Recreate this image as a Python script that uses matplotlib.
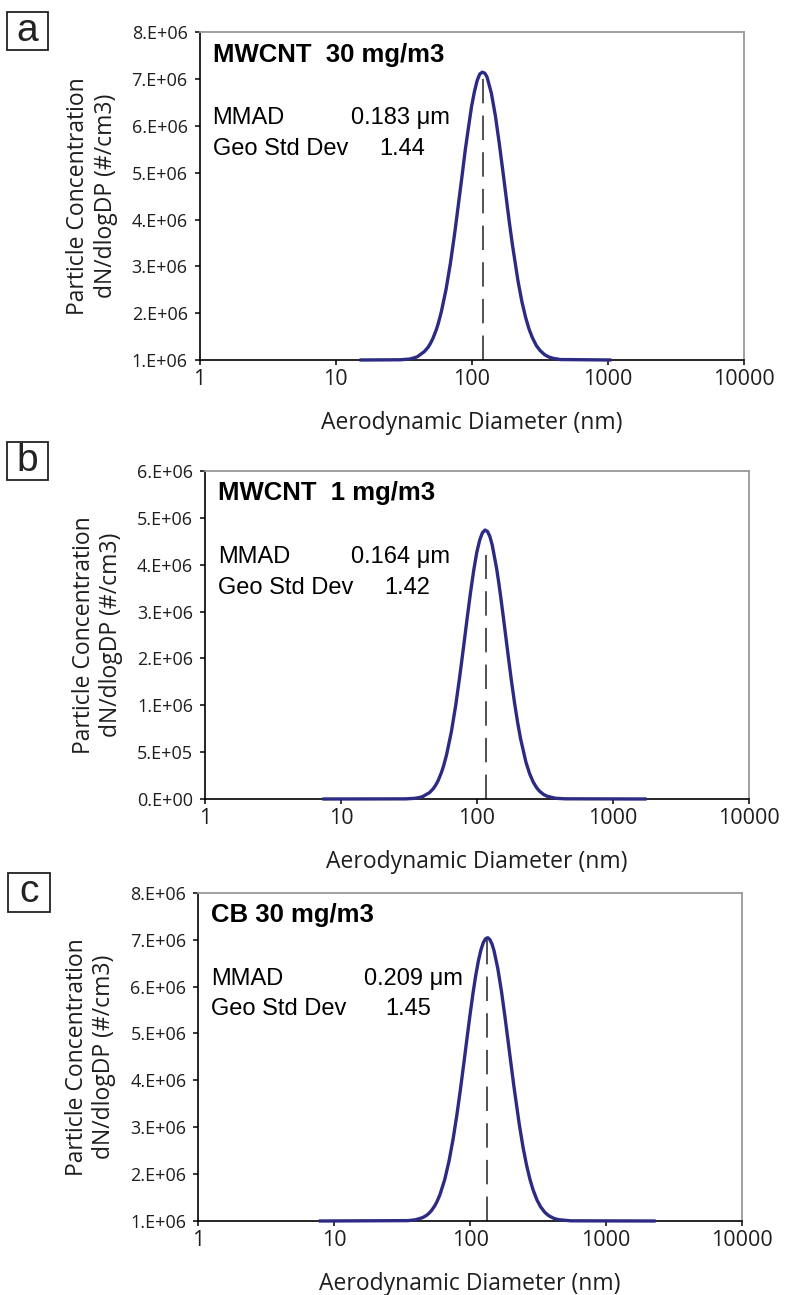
import numpy as np
import matplotlib
matplotlib.use('Agg')
import matplotlib.pyplot as plt
from matplotlib.patches import Rectangle
from matplotlib.ticker import FixedLocator, FuncFormatter, NullLocator

# values (diameter in nm, dN/dlogDP in #/cm3)
diam_a = [15, 30, 35, 38, 40, 45, 48, 50, 52, 55, 57, 60, 65, 70, 75, 80, 85,
          90, 95, 100, 105, 110, 115, 120, 125, 130, 140, 150, 160, 170, 180,
          190, 200, 220, 235, 250, 265, 280, 300, 320, 345, 370, 400, 450, 1070]
conc_a = [1.0e6, 1.005e6, 1.02e6, 1.047e6, 1.07e6, 1.18e6, 1.274e6, 1.36e6,
          1.459e6, 1.64e6, 1.783e6, 2.03e6, 2.51e6, 3.07e6, 3.68e6, 4.31e6,
          4.91e6, 5.49e6, 5.97e6, 6.41e6, 6.73e6, 6.97e6, 7.11e6, 7.15e6,
          7.13e6, 7.05e6, 6.70e6, 6.21e6, 5.63e6, 5.04e6, 4.47e6, 3.93e6,
          3.46e6, 2.68e6, 2.24e6, 1.91e6, 1.66e6, 1.48e6, 1.306e6, 1.20e6,
          1.113e6, 1.065e6, 1.034e6, 1.01e6, 1.0e6]

diam_b = [7.3, 30, 35, 38, 40, 45, 48, 50, 52, 55, 57, 60, 65, 70, 75, 80, 85,
          90, 95, 100, 105, 110, 115, 120, 125, 130, 140, 145, 150, 160, 170,
          180, 190, 200, 210, 230, 245, 260, 275, 290, 310, 330, 380, 450, 1780]
conc_b = [0, 1.4e3, 7.2e3, 1.6e4, 2.6e4, 6.9e4, 1.12e5, 1.51e5, 1.97e5,
          2.84e5, 3.53e5, 4.74e5, 7.15e5, 9.99e5, 1.62e6, 2.25e6, 2.86e6,
          3.41e6, 3.88e6, 4.26e6, 4.52e6, 4.68e6, 4.74e6, 4.71e6, 4.60e6,
          4.42e6, 3.92e6, 3.63e6, 3.32e6, 2.69e6, 2.08e6, 1.52e6, 1.04e6,
          8.15e5, 6.45e5, 3.95e5, 2.70e5, 1.83e5, 1.23e5, 8.3e4, 4.9e4,
          2.9e4, 7.6e3, 2e3, 0]

diam_c = [7.7, 35, 40, 45, 48, 50, 52, 55, 57, 60, 65, 70, 75, 80, 85, 90, 95,
          100, 105, 110, 115, 120, 125, 130, 135, 140, 145, 150, 160, 170, 180,
          190, 200, 210, 230, 245, 260, 275, 290, 310, 330, 355, 380, 415, 450,
          550, 2320]
conc_c = [1.0e6, 1.008e6, 1.028e6, 1.075e6, 1.124e6, 1.169e6, 1.223e6,
          1.326e6, 1.410e6, 1.561e6, 1.879e6, 2.279e6, 2.749e6, 3.269e6,
          3.818e6, 4.371e6, 4.908e6, 5.408e6, 5.854e6, 6.235e6, 6.543e6,
          6.776e6, 6.934e6, 7.019e6, 7.04e6, 6.997e6, 6.902e6, 6.762e6,
          6.378e6, 5.902e6, 5.380e6, 4.851e6, 4.344e6, 3.870e6, 3.060e6,
          2.577e6, 2.195e6, 1.899e6, 1.671e6, 1.451e6, 1.303e6, 1.183e6,
          1.110e6, 1.054e6, 1.027e6, 1.004e6, 1.0e6]

panel_letters = ['a', 'b', 'c']
titles = ['MWCNT  30 mg/m3', 'MWCNT  1 mg/m3', 'CB 30 mg/m3']
mmad = ['0.183 \u03bcm', '0.164 \u03bcm', '0.209 \u03bcm']
gsd = ['1.44', '1.42', '1.45']
mode_nm = [121, 116, 134]
dash_top = [7.15e6, 4.2e6, 7.04e6]
yticks_a = [1e6, 2e6, 3e6, 4e6, 5e6, 6e6, 7e6, 8e6]
yticks_b = [0, 5e5, 1e6, 2e6, 3e6, 4e6, 5e6, 6e6]
yticks_c = yticks_a
xticks = [1, 10, 100, 1000, 10000]

W, H = 796, 1295
# axes boxes in pixels: left, top, right, bottom
boxes = [(199.5, 32.4, 743.5, 360), (205, 471, 748.5, 799), (198.2, 892.7, 742, 1221)]
letter_boxes = [(7, 12, 48, 50), (7, 442, 48, 480), (8, 873, 50, 912)]
val_right = [0.4605, 0.451, 0.487]
gsd_right = [0.4145, 0.415, 0.4276]

NAVY = '#2b2b84'
TICKFONT = 'Open Sans'
TXTFONT = 'Liberation Sans'


def sci_label(v, pos):
    if v == 0:
        return '0.E+00'
    e = int(np.floor(np.log10(v) + 1e-9))
    m = int(round(v / 10 ** e))
    return '%d.E%+03d' % (m, e)


def fwd_b(v):
    v = np.asarray(v, dtype=float)
    return np.where(v <= 1e6, v / 5e5, v / 1e6 + 1)


def inv_b(p):
    p = np.asarray(p, dtype=float)
    return np.where(p <= 2, p * 5e5, (p - 1) * 1e6)


fig = plt.figure(figsize=(W / 100, H / 100), dpi=100)

series = [(diam_a, conc_a), (diam_b, conc_b), (diam_c, conc_c)]
ytick_sets = [yticks_a, yticks_b, yticks_c]

for i in range(3):
    l, t, r, b = boxes[i]
    ax = fig.add_axes([l / W, 1 - b / H, (r - l) / W, (b - t) / H])
    d, c = series[i]
    ax.set_xscale('log')
    if i == 1:
        # the printed tick labels are evenly spaced: 0, 5E5, 1E6, 2E6, ...
        ax.set_yscale('function', functions=(fwd_b, inv_b))
    ax.plot(d, c, color=NAVY, lw=2.4, solid_capstyle='butt',
            solid_joinstyle='round', clip_on=False, zorder=3)
    base = ytick_sets[i][0]
    ax.plot([mode_nm[i], mode_nm[i]], [base, dash_top[i]], color='#222222',
            lw=1.1, linestyle=(0, (16, 8)), zorder=2)
    ax.set_xlim(1, 10000)
    ax.set_ylim(ytick_sets[i][0], ytick_sets[i][-1])

    ax.xaxis.set_major_locator(FixedLocator(xticks))
    ax.xaxis.set_minor_locator(NullLocator())
    ax.xaxis.set_major_formatter(FuncFormatter(lambda v, p: '%d' % v))
    ax.yaxis.set_major_locator(FixedLocator(ytick_sets[i]))
    ax.yaxis.set_minor_locator(NullLocator())
    ax.yaxis.set_major_formatter(FuncFormatter(sci_label))

    ax.tick_params(axis='both', direction='out', length=3.5, width=1.1, color='black')
    ax.tick_params(axis='x', pad=3, labelsize=15.5, labelcolor='#1e1e1e')
    ax.tick_params(axis='y', pad=5, labelsize=13, labelcolor='#1e1e1e')
    for lab in ax.get_xticklabels() + ax.get_yticklabels():
        lab.set_family(TICKFONT)

    for s in ['left', 'bottom']:
        ax.spines[s].set_color('black')
        ax.spines[s].set_linewidth(1.2)
    for s in ['top', 'right']:
        ax.spines[s].set_color('#999999')
        ax.spines[s].set_linewidth(1.3)

    ax.set_xlabel('Aerodynamic Diameter (nm)', family=TICKFONT, fontsize=16.5,
                  color='#1e1e1e', labelpad=15)
    ax.text(-0.198, 0.5, 'Particle Concentration\ndN/dlogDP (#/cm3)',
            transform=ax.transAxes, rotation=90, ha='center', va='center',
            multialignment='center', family=TICKFONT, fontsize=16.5,
            color='#1e1e1e', linespacing=1.2)

    ax.text(0.024, 0.911, titles[i], transform=ax.transAxes, family=TXTFONT,
            fontweight='bold', fontsize=18.5, va='baseline', ha='left')
    ax.text(0.024, 0.719, 'MMAD', transform=ax.transAxes, family=TXTFONT,
            fontsize=17, va='baseline', ha='left')
    ax.text(val_right[i], 0.719, mmad[i], transform=ax.transAxes, family=TXTFONT,
            fontsize=17, va='baseline', ha='right')
    ax.text(0.024, 0.626, 'Geo Std Dev', transform=ax.transAxes, family=TXTFONT,
            fontsize=17, va='baseline', ha='left')
    ax.text(gsd_right[i], 0.626, gsd[i], transform=ax.transAxes, family=TXTFONT,
            fontsize=17, va='baseline', ha='right')

    # boxed panel letter
    x0, y0, x1, y1 = letter_boxes[i]
    fig.patches.append(Rectangle((x0 / W, 1 - y1 / H), (x1 - x0) / W, (y1 - y0) / H,
                                 transform=fig.transFigure, fill=False,
                                 edgecolor='#222222', lw=1.3))
    fig.text((x0 + x1) / 2 / W, 1 - (y0 + y1) / 2 / H, panel_letters[i],
             ha='center', va='center', family=TXTFONT, fontsize=28, color='#222222')

fig.savefig('out.png', dpi=100, facecolor='white')
